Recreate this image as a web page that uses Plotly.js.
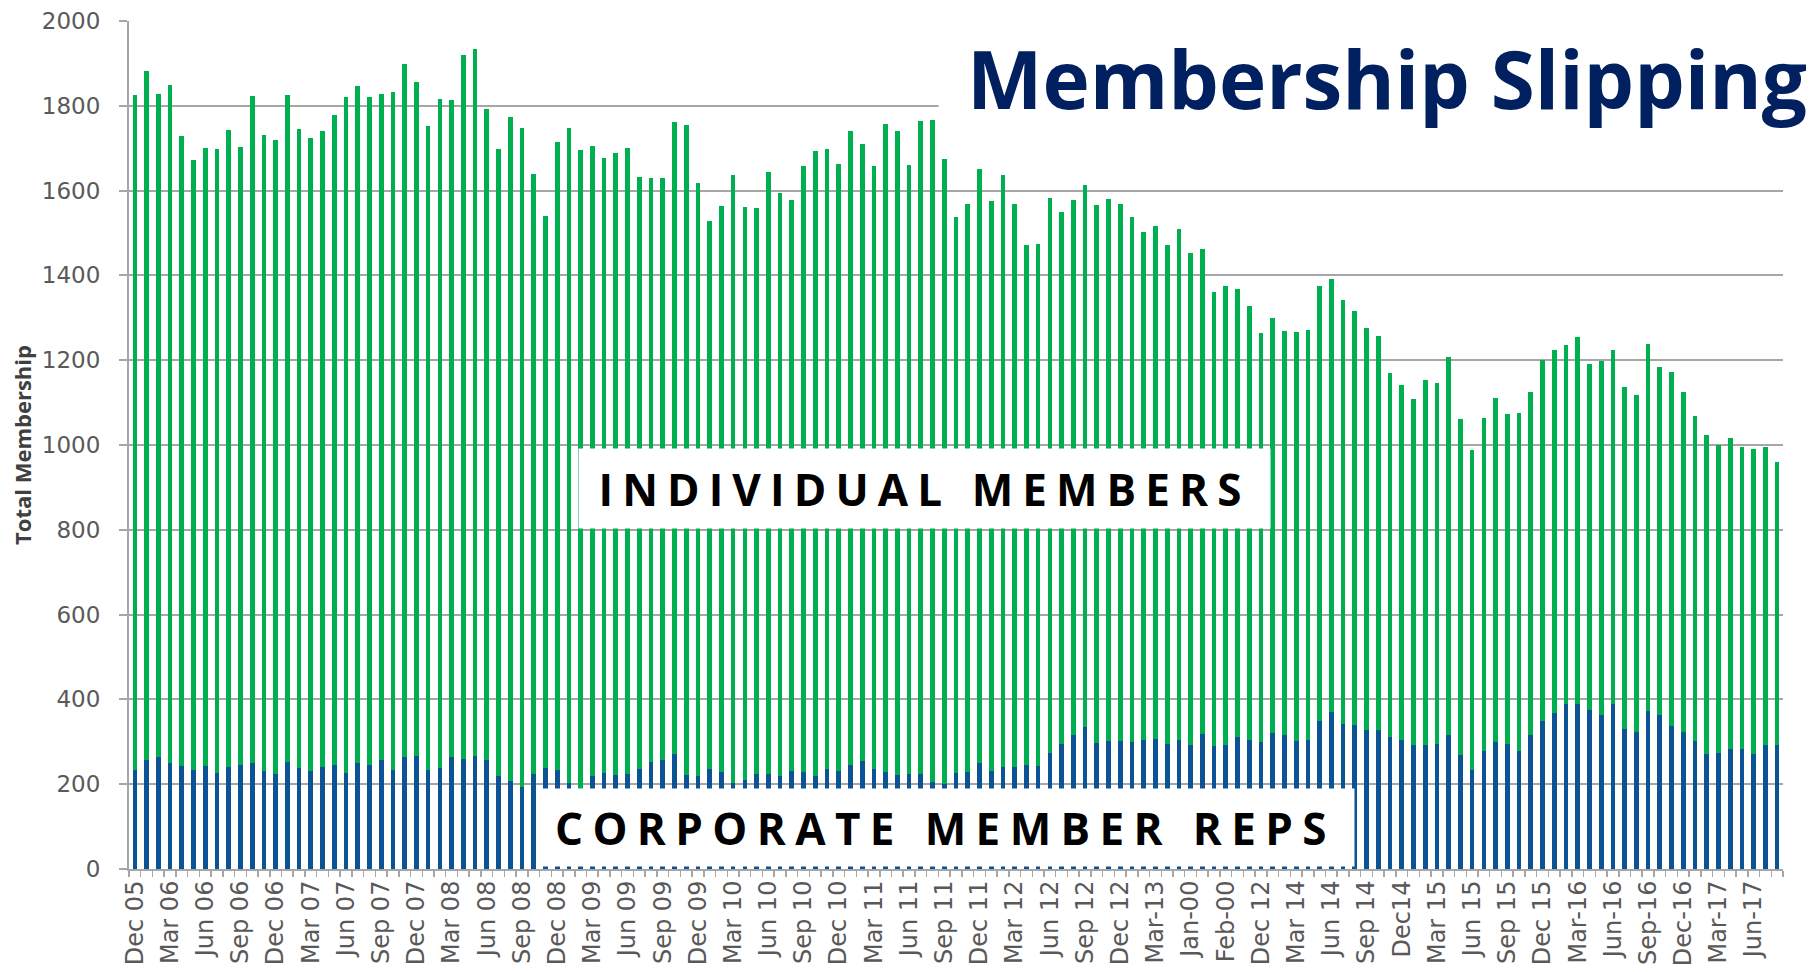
<!DOCTYPE html>
<html>
<head>
<meta charset="utf-8">
<script src="https://cdn.plot.ly/plotly-3.0.1.min.js"></script>
<style>
  html, body { margin: 0; padding: 0; background: #ffffff; }
  #chart { width: 1816px; height: 972px; }
</style>
</head>
<body>
<div id="chart"></div>
<script>
// ---- Data (monthly, Dec 2005 .. Aug 2017) ----
const tickLabels = [
  "Dec 05","Mar 06","Jun 06","Sep 06","Dec 06","Mar 07","Jun 07","Sep 07",
  "Dec 07","Mar 08","Jun 08","Sep 08","Dec 08","Mar 09","Jun 09","Sep 09",
  "Dec 09","Mar 10","Jun 10","Sep 10","Dec 10","Mar 11","Jun 11","Sep 11",
  "Dec 11","Mar 12","Jun 12","Sep 12","Dec 12","Mar-13","Jan-00","Feb-00",
  "Dec 12","Mar 14","Jun 14","Sep 14","Dec14","Mar 15","Jun 15","Sep 15",
  "Dec 15","Mar-16","Jun-16","Sep-16","Dec-16","Mar-17","Jun-17"
];

// Total membership (top of each stacked bar)
const totalMembership = [
  1826,1883,1829,1850,1729,1672,1701,1698,1742,1704,1823,1730,1719,1826,1746,1723,
  1741,1778,1821,1846,1821,1829,1833,1898,1856,1753,1817,1813,1920,1935,1792,1697,
  1774,1748,1638,1541,1715,1748,1696,1705,1678,1689,1700,1633,1630,1630,1762,1755,
  1618,1529,1564,1637,1561,1558,1644,1595,1579,1659,1694,1697,1663,1740,1711,1658,
  1757,1740,1661,1763,1766,1675,1538,1569,1652,1576,1637,1568,1471,1474,1583,1550,
  1578,1614,1567,1581,1569,1538,1502,1517,1472,1510,1453,1462,1361,1375,1369,1328,
  1263,1300,1268,1266,1271,1374,1392,1341,1316,1275,1258,1170,1141,1108,1153,1146,
  1208,1062,989,1064,1111,1074,1075,1125,1200,1225,1236,1254,1192,1197,1224,1136,
  1118,1239,1183,1173,1125,1068,1023,999,1017,996,990,996,961
];

// Corporate member reps (blue, bottom segment)
const corporateReps = [
  234,258,263,251,244,233,244,227,241,246,251,232,224,253,239,230,
  241,246,227,249,246,258,233,263,267,233,239,263,260,267,257,220,
  208,194,224,239,233,202,185,219,227,222,225,236,253,257,272,222,
  219,235,229,203,211,225,225,219,231,229,219,235,232,245,255,236,
  229,221,224,223,205,201,227,228,249,230,241,240,245,244,274,296,
  315,335,297,301,301,300,304,307,296,305,293,319,291,293,311,304,
  300,320,315,301,305,348,370,343,339,328,328,311,304,293,293,296,
  316,270,234,278,299,296,278,317,348,368,388,389,375,364,389,330,
  323,373,364,337,322,302,271,274,282,284,271,293,293
];

// Individual members = total minus corporate reps
const individualMembers = totalMembership.map((t, i) => t - corporateReps[i]);
const monthIndex = totalMembership.map((_, i) => i);
const tickPositions = tickLabels.map((_, k) => k * 3);

const GREEN = '#00b050';
const BLUE = '#0b5394';
const GRID = '#a6a6a6';

const traces = [
  {
    type: 'bar', name: 'Corporate Member Reps',
    x: monthIndex, y: corporateReps,
    marker: { color: BLUE, line: { width: 0 } },
    hoverinfo: 'y'
  },
  {
    type: 'bar', name: 'Individual Members',
    x: monthIndex, y: individualMembers,
    marker: { color: GREEN, line: { width: 0 } },
    hoverinfo: 'y'
  }
];

const layout = {
  width: 1816, height: 972,
  margin: { l: 129, r: 33, t: 21, b: 103, pad: 0 },
  paper_bgcolor: '#ffffff', plot_bgcolor: '#ffffff',
  barmode: 'stack', bargap: 0.6,
  showlegend: false,
  xaxis: {
    range: [-0.5, monthIndex.length - 0.5],
    tickmode: 'array', tickvals: tickPositions, ticktext: tickLabels,
    ticks: '', tickangle: -90,
    tickfont: { family: 'DejaVu Sans', size: 24, color: '#595959' },
    showgrid: false, zeroline: false,
    showline: true, linecolor: GRID, linewidth: 2,
    minor: { tickmode: 'linear', tick0: -0.5, dtick: 1, ticks: 'outside',
             ticklen: 6, tickwidth: 1.5, tickcolor: GRID, showgrid: false },
    fixedrange: true
  },
  yaxis: {
    range: [0, 2000], tickmode: 'linear', tick0: 0, dtick: 200,
    ticks: 'outside', ticklen: 8, tickwidth: 2, tickcolor: GRID,
    ticklabelstandoff: 14,
    tickfont: { family: 'DejaVu Sans', size: 23, color: '#595959' },
    showgrid: true, gridcolor: GRID, gridwidth: 2,
    zeroline: false, showline: true, linecolor: GRID, linewidth: 2,
    title: { text: 'Total Membership', standoff: 4,
             font: { family: 'Open Sans', size: 22, color: '#404040', weight: 700 } },
    fixedrange: true
  },
  annotations: [
    {
      text: 'Membership Slipping',
      xref: 'paper', yref: 'paper', x: 0.489, y: 1.025,
      xanchor: 'left', yanchor: 'top',
      width: 896, height: 152, align: 'center', valign: 'middle',
      bgcolor: '#ffffff', borderpad: 0, showarrow: false,
      font: { family: 'Open Sans', size: 80, color: '#002060', weight: 700 }
    },
    {
      text: '<span style="letter-spacing:9.1px">INDIVIDUAL MEMBERS</span>',
      xref: 'x', yref: 'y', x: 67.35, y: 898,
      xanchor: 'center', yanchor: 'middle',
      width: 691, height: 79, align: 'center', valign: 'middle',
      bgcolor: '#ffffff', borderpad: 0, showarrow: false,
      font: { family: 'Open Sans', size: 44, color: '#000000', weight: 700 }
    },
    {
      text: '<span style="letter-spacing:9.4px">CORPORATE MEMBER REPS</span>',
      xref: 'x', yref: 'y', x: 69.14, y: 97.9,
      xanchor: 'center', yanchor: 'middle',
      width: 817, height: 77, align: 'center', valign: 'middle',
      bgcolor: '#ffffff', borderpad: 0, showarrow: false,
      font: { family: 'Open Sans', size: 44, color: '#000000', weight: 700 }
    }
  ]
};

Plotly.newPlot('chart', traces, layout, { displayModeBar: false, staticPlot: true });
</script>
</body>
</html>
